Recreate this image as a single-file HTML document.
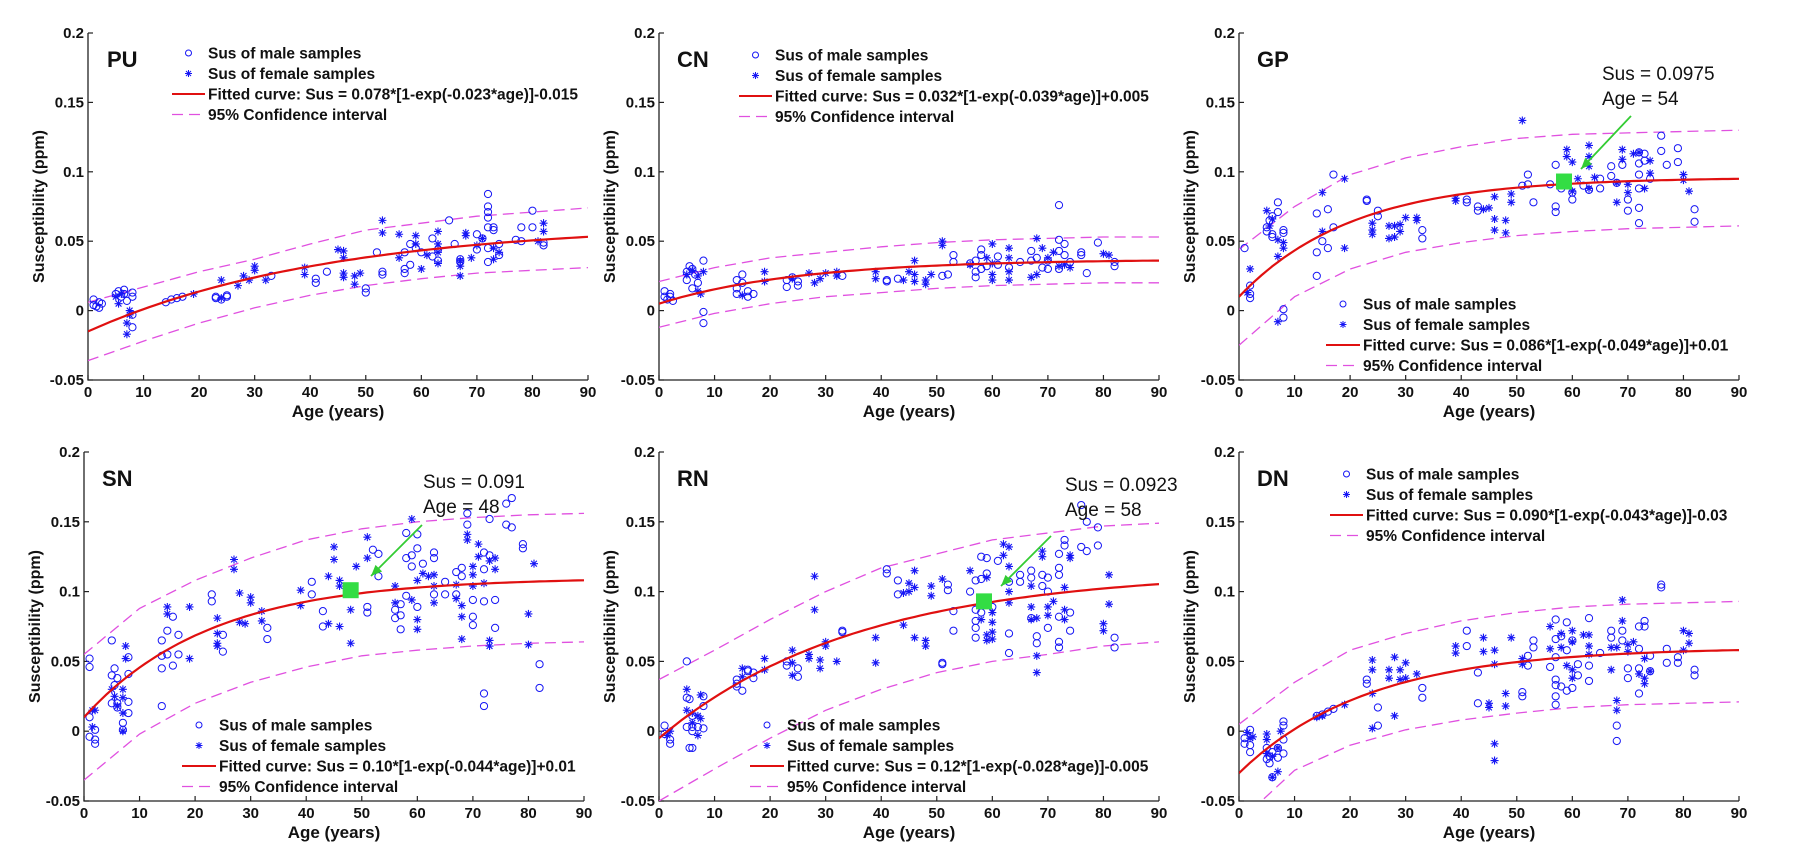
<!DOCTYPE html>
<html><head><meta charset="utf-8"><style>
html,body{margin:0;padding:0;background:#fff;}
svg{display:block;font-family:"Liberation Sans",Arial,sans-serif;}
</style></head><body>
<svg id="fig" width="1800" height="849" viewBox="0 0 1800 849" xmlns="http://www.w3.org/2000/svg"></svg>
<script>
// ---------- DATA ----------
const ciAges = [0,10,20,30,40,50,60,70,80,90];
const xTicks = [0,10,20,30,40,50,60,70,80,90];
const yTicks = [-0.05,0,0.05,0.1,0.15,0.2];
const yTickLabels = ["-0.05","0","0.05","0.1","0.15","0.2"];

const puFit = [0.078,0.023,-0.015];
const puUpper = [0.006,0.017,0.028,0.037,0.048,0.058,0.063,0.068,0.071,0.074];
const puLower = [-0.036,-0.022,-0.009,0.002,0.011,0.018,0.023,0.027,0.029,0.031];
const puMale = [[1,.008],[1,.004],[1.5,.003],[2,.006],[2,.002],[2.5,.005],[5,.012],[5.5,.014],[6,.01],[6.5,.015],[6.5,.012],[7,.007],[8,.013],[8,.01],[8,-.003],[8,-.012],[14,.006],[15,.008],[16,.009],[17,.01],[23,.009],[23,.01],[24,.008],[25,.01],[25,.011],[33,.025],[41,.023],[41,.02],[43,.028],[53,.028],[53,.026],[50,.016],[50,.013],[52,.042],[57,.042],[58,.048],[57,.03],[57,.027],[58,.033],[59,.045],[60,.042],[62,.052],[63,.044],[65,.065],[66,.048],[67,.035],[67,.037],[70,.055],[70,.044],[71,.052],[72,.06],[72,.084],[72,.075],[72,.071],[72,.067],[73,.06],[73,.058],[72,.045],[72,.035],[74,.04],[74,.048],[77,.051],[78,.05],[78,.06],[80,.072],[80,.06],[82,.047],[82,.049],[63,.036],[62,.039]];
const puFemale = [[5,.01],[5.5,.005],[6,.012],[7,-.009],[7,-.017],[7.5,-.003],[7.5,0],[19,.012],[24,.022],[24,.009],[27,.018],[28,.025],[29,.022],[30,.032],[30,.029],[32,.022],[39,.031],[39,.026],[45,.044],[46,.043],[46,.038],[46,.027],[46,.024],[48,.019],[48,.025],[49,.027],[53,.065],[53,.056],[56,.055],[56,.038],[59,.054],[59,.048],[60,.03],[61,.04],[63,.057],[63,.048],[63,.042],[63,.034],[67,.025],[67,.036],[67,.032],[68,.056],[68,.054],[69,.038],[70,.047],[71,.052],[73,.045],[73,.037],[74,.042],[81,.05],[82,.063],[82,.057]];

const cnFit = [0.032,0.039,0.005];
const cnUpper = [0.021,0.031,0.038,0.042,0.046,0.049,0.051,0.052,0.053,0.053];
const cnLower = [-0.012,-0.002,0.005,0.010,0.013,0.016,0.018,0.019,0.020,0.020];
const cnMale = [[1,.014],[1,.01],[1.5,.008],[2,.012],[2,.01],[2.5,.007],[5,.028],[5,.022],[5.5,.032],[6,.03],[6,.016],[6.5,.026],[7,.02],[8,.036],[8,-.001],[8,-.009],[14,.022],[14,.016],[14,.012],[15,.026],[15,.02],[16,.014],[16,.01],[17,.012],[23,.022],[23,.017],[24,.024],[25,.021],[25,.018],[33,.025],[41,.022],[41,.021],[43,.023],[51,.025],[52,.026],[53,.04],[53,.035],[56,.034],[57,.036],[57,.028],[57,.024],[58,.044],[58,.04],[58,.03],[59,.032],[61,.039],[61,.033],[63,.031],[65,.035],[67,.043],[67,.036],[68,.038],[69,.031],[70,.03],[70,.036],[72,.076],[72,.051],[72,.043],[72,.03],[73,.048],[73,.04],[74,.035],[76,.042],[76,.04],[77,.027],[79,.049],[82,.035],[82,.032]];
const cnFemale = [[5,.026],[6,.029],[7,.025],[7,.014],[7.5,.012],[8,.028],[15,.011],[19,.028],[19,.021],[24,.023],[27,.027],[28,.02],[29,.023],[30,.027],[32,.028],[32,.025],[39,.028],[39,.023],[44,.022],[45,.028],[46,.036],[46,.026],[46,.021],[48,.022],[48,.019],[49,.026],[51,.05],[51,.047],[56,.033],[59,.038],[60,.048],[60,.034],[60,.026],[60,.022],[63,.045],[63,.038],[63,.028],[63,.022],[67,.024],[68,.052],[68,.026],[69,.045],[70,.038],[71,.042],[72,.032],[73,.033],[74,.031],[80,.041],[81,.04]];

const gpFit = [0.086,0.049,0.01];
const gpUpper = [0.044,0.075,0.098,0.110,0.118,0.124,0.127,0.128,0.129,0.130];
const gpLower = [-0.025,0.010,0.030,0.042,0.049,0.054,0.057,0.059,0.060,0.061];
const gpMale = [[1,.045],[2,.018],[2,.012],[2,.009],[5,.06],[5,.057],[5.5,.065],[6,.068],[6,.055],[6,.053],[7,.078],[7,.071],[8,.058],[8,.056],[8,.001],[8,-.005],[14,.07],[14,.042],[14,.025],[15,.05],[16,.073],[16,.045],[17,.098],[17,.06],[23,.08],[23,.079],[25,.072],[25,.068],[33,.058],[33,.052],[41,.08],[41,.078],[43,.075],[43,.072],[51,.09],[52,.098],[52,.091],[53,.078],[56,.091],[57,.105],[57,.075],[57,.071],[58,.088],[59,.095],[60,.08],[60,.085],[62,.09],[63,.087],[65,.095],[65,.088],[67,.104],[67,.097],[68,.092],[69,.105],[70,.072],[70,.08],[72,.114],[72,.106],[72,.098],[72,.088],[72,.074],[72,.063],[73,.113],[73,.108],[74,.095],[76,.126],[76,.115],[77,.105],[79,.117],[79,.107],[82,.073],[82,.064]];
const gpFemale = [[2,.03],[1.5,.013],[5,.072],[5.5,.061],[6,.066],[7,.039],[7,.051],[8,.049],[8,.045],[7,-.008],[15,.085],[15,.057],[19,.095],[19,.045],[24,.063],[24,.058],[24,.055],[27,.061],[27,.052],[28,.061],[28,.053],[29,.062],[29,.057],[30,.067],[32,.067],[32,.065],[39,.081],[39,.079],[44,.073],[45,.074],[46,.082],[46,.066],[46,.058],[48,.065],[48,.056],[49,.084],[49,.078],[51,.137],[59,.116],[59,.111],[60,.107],[60,.086],[61,.095],[63,.119],[63,.111],[63,.104],[63,.088],[64,.096],[68,.092],[68,.078],[69,.116],[69,.109],[70,.091],[70,.085],[71,.113],[72,.114],[73,.088],[74,.108],[74,.099],[80,.098],[80,.094],[81,.086]];

const snFit = [0.10,0.044,0.01];
const snUpper = [0.055,0.088,0.108,0.124,0.137,0.145,0.150,0.153,0.155,0.156];
const snLower = [-0.035,-0.002,0.020,0.035,0.046,0.054,0.058,0.061,0.063,0.064];
const snMale = [[1,.052],[1,.046],[1,.01],[1,-.004],[2,.001],[2,-.006],[2,-.009],[5,.065],[5,.04],[5,.02],[5.5,.033],[5.5,.045],[6,.038],[6,.02],[6,.017],[7,.006],[7,.001],[8,.053],[8,.041],[8,.021],[8,.013],[14,.065],[14,.054],[14,.045],[14,.018],[15,.072],[15,.055],[16,.082],[16,.047],[17,.069],[17,.055],[23,.098],[23,.093],[25,.069],[25,.057],[33,.074],[33,.066],[41,.107],[41,.098],[43,.086],[43,.075],[51,.089],[51,.085],[52,.13],[53,.127],[53,.111],[56,.087],[56,.081],[57,.091],[57,.083],[57,.073],[58,.142],[58,.124],[58,.097],[59,.126],[59,.118],[60,.141],[60,.131],[60,.089],[61,.12],[63,.128],[63,.124],[63,.098],[65,.107],[65,.098],[67,.114],[67,.098],[68,.117],[68,.111],[69,.156],[69,.148],[70,.094],[70,.082],[70,.076],[72,.128],[72,.116],[72,.093],[72,.027],[72,.018],[73,.152],[73,.126],[74,.094],[74,.074],[76,.163],[76,.148],[77,.167],[77,.146],[79,.134],[79,.131],[82,.048],[82,.031]];
const snFemale = [[1.5,.015],[1.5,.003],[2,.015],[5,.03],[5.5,.025],[6,.018],[7,.03],[7,.024],[7,.013],[7,0],[7.5,.061],[7.5,.052],[15,.089],[15,.084],[19,.089],[19,.052],[24,.081],[24,.07],[24,.063],[24,.061],[27,.123],[27,.116],[28,.099],[28,.078],[29,.077],[30,.096],[30,.092],[32,.086],[32,.079],[39,.101],[39,.09],[44,.111],[44,.077],[45,.132],[45,.123],[46,.108],[46,.104],[46,.075],[48,.087],[48,.063],[49,.118],[51,.139],[51,.124],[56,.104],[56,.092],[59,.152],[59,.094],[60,.108],[60,.08],[60,.073],[61,.113],[62,.111],[63,.112],[63,.104],[63,.092],[67,.105],[67,.095],[68,.09],[68,.082],[68,.066],[69,.141],[69,.137],[70,.118],[70,.112],[70,.104],[71,.134],[71,.125],[72,.106],[73,.122],[73,.065],[73,.061],[74,.124],[74,.116],[80,.084],[80,.062],[81,.12]];

const rnFit = [0.12,0.028,-0.005];
const rnUpper = [0.037,0.058,0.080,0.100,0.117,0.127,0.137,0.142,0.147,0.149];
const rnLower = [-0.050,-0.027,-0.005,0.015,0.030,0.042,0.050,0.055,0.061,0.064];
const rnMale = [[1,.004],[1,-.002],[2,-.009],[2,-.006],[5,.05],[5,.024],[5,.003],[5.5,.023],[5.5,-.012],[6,.011],[6,.003],[6,0],[6,-.012],[7,.003],[8,.025],[8,.018],[8,.002],[14,.037],[14,.034],[14,.032],[15,.029],[16,.044],[16,.043],[17,.042],[17,.038],[23,.05],[23,.047],[25,.045],[25,.039],[33,.072],[33,.071],[41,.116],[41,.113],[43,.108],[43,.098],[51,.049],[51,.048],[52,.105],[52,.101],[53,.086],[53,.072],[56,.1],[57,.108],[57,.087],[57,.079],[57,.074],[57,.067],[58,.125],[58,.109],[58,.085],[59,.124],[59,.113],[60,.089],[61,.122],[63,.107],[63,.07],[63,.056],[65,.112],[65,.107],[67,.115],[67,.11],[67,.081],[68,.068],[68,.063],[69,.112],[69,.104],[70,.11],[70,.1],[70,.074],[72,.127],[72,.117],[72,.112],[72,.082],[72,.064],[72,.06],[73,.137],[73,.133],[74,.085],[74,.072],[76,.162],[76,.132],[77,.15],[77,.129],[79,.146],[79,.133],[82,.067],[82,.06]];
const rnFemale = [[1.5,-.003],[2,0],[5,.03],[5,.015],[6,.013],[6,.006],[7,-.003],[7,.011],[7.5,.009],[7.5,.026],[15,.045],[15,.039],[19,.052],[19,.044],[24,.058],[24,.049],[24,.04],[27,.055],[27,.052],[28,.111],[28,.087],[29,.051],[29,.045],[30,.064],[30,.061],[32,.05],[39,.067],[39,.049],[44,.099],[44,.076],[45,.1],[45,.106],[46,.115],[46,.103],[46,.067],[48,.065],[48,.061],[49,.104],[49,.097],[51,.109],[56,.115],[58,.08],[59,.11],[59,.069],[59,.065],[60,.085],[60,.078],[60,.071],[60,.066],[62,.126],[62,.134],[63,.132],[63,.118],[63,.1],[63,.092],[67,.104],[67,.089],[67,.08],[68,.081],[68,.054],[68,.042],[69,.129],[69,.125],[70,.089],[70,.083],[71,.093],[73,.103],[73,.087],[73,.08],[74,.126],[74,.124],[80,.077],[80,.072],[81,.112],[81,.091]];

const dnFit = [0.090,0.043,-0.03];
const dnUpper = [0.005,0.035,0.058,0.070,0.079,0.085,0.089,0.091,0.092,0.093];
const dnLower = [-0.065,-0.028,-0.010,0.001,0.008,0.013,0.017,0.019,0.020,0.021];
const dnMale = [[1,-.005],[1,-.009],[2,.001],[2,-.01],[2,-.015],[5,-.012],[5,-.02],[5.5,-.018],[5.5,-.023],[6,-.015],[6,-.033],[7,-.019],[7,-.012],[8,.007],[8,.004],[8,-.006],[8,-.016],[14,.011],[15,.012],[16,.014],[17,.016],[23,.037],[23,.034],[25,.017],[25,.004],[33,.031],[33,.024],[41,.072],[41,.061],[43,.042],[43,.02],[51,.028],[51,.025],[52,.054],[52,.047],[53,.065],[53,.06],[56,.046],[57,.08],[57,.066],[57,.053],[57,.037],[57,.033],[57,.025],[57,.019],[58,.068],[58,.032],[59,.078],[59,.058],[59,.029],[60,.065],[60,.031],[61,.048],[61,.04],[63,.081],[63,.047],[63,.036],[65,.056],[67,.072],[67,.067],[68,.004],[68,-.007],[69,.072],[69,.065],[70,.045],[70,.038],[72,.075],[72,.059],[72,.045],[72,.027],[73,.079],[73,.075],[74,.054],[74,.043],[76,.105],[76,.103],[77,.059],[77,.049],[79,.053],[79,.049],[82,.044],[82,.04]];
const dnFemale = [[1.5,-.001],[2,-.005],[2.5,-.004],[5,-.002],[5,-.006],[5,-.016],[6,-.033],[6,-.018],[7,-.012],[7,-.029],[7.5,0],[14,.01],[15,.011],[19,.019],[24,.051],[24,.044],[24,.027],[24,.002],[27,.044],[27,.038],[28,.053],[28,.011],[29,.044],[29,.037],[30,.049],[30,.038],[32,.041],[39,.061],[39,.056],[44,.067],[44,.057],[45,.02],[45,.017],[46,.058],[46,.048],[46,-.009],[46,-.021],[48,.027],[48,.018],[49,.067],[51,.052],[51,.048],[56,.075],[56,.059],[58,.07],[58,.06],[59,.047],[60,.072],[60,.064],[60,.044],[60,.038],[62,.069],[63,.069],[63,.061],[63,.055],[67,.06],[67,.044],[68,.06],[68,.022],[68,.015],[69,.094],[69,.079],[70,.062],[70,.057],[71,.064],[72,.041],[73,.052],[73,.038],[73,.034],[74,.043],[80,.072],[80,.058],[81,.07],[81,.063]];

const gpMark = [58.5,0.093];
const snMark = [48,0.101];
const rnMark = [58.5,0.093];

// ---------- DRAW ----------
const NS = "http://www.w3.org/2000/svg";
const svg = document.getElementById('fig');
function mk(tag, attrs, parent){
  const e = document.createElementNS(NS, tag);
  for (const k in attrs) e.setAttribute(k, attrs[k]);
  (parent||svg).appendChild(e);
  return e;
}
const BLUE = "#1515f5", RED = "#e01010", MAG = "#e050e0", GREEN = "#33cc33";

function panel(cfg){
  const g = mk('g', {});
  
  
  const X0 = cfg.x0, W = 500, Y0 = cfg.y0, H = cfg.h;
  const sx = a => X0 + a / 90 * W;
  const sy = v => Y0 + (0.2 - v) / 0.25 * H;
  const yb = Y0 + H;
  const clip = mk('clipPath', {id: 'clip-' + cfg.id}, g);
  mk('rect', {x: X0, y: Y0, width: W, height: H}, clip);
  const ax = mk('path', {d: `M${X0} ${Y0}V${yb}H${X0+W}`, stroke: '#222', 'stroke-width': 1.3, fill: 'none'}, g);
  
  
  xTicks.forEach(t => {
    mk('line', {x1: sx(t), x2: sx(t), y1: yb, y2: yb - 5, stroke: '#222', 'stroke-width': 1.2}, g);
    const tx = mk('text', {x: sx(t), y: yb + 17, 'text-anchor': 'middle', 'font-size': 15, 'font-weight': 'bold', fill: '#111'}, g);
    tx.textContent = t;
    
    
  });
  yTicks.forEach((t, i) => {
    mk('line', {x1: X0, x2: X0 + 5, y1: sy(t), y2: sy(t), stroke: '#222', 'stroke-width': 1.2}, g);
    const tx = mk('text', {x: X0 - 4, y: sy(t) + 5, 'text-anchor': 'end', 'font-size': 15, 'font-weight': 'bold', fill: '#111'}, g);
    tx.textContent = yTickLabels[i];
    
    
  });
  const yt = mk('text', {x: 0, y: 0, transform: `translate(${cfg.ylx},${Y0 + H*0.5}) rotate(-90)`, 'text-anchor': 'middle', 'font-size': 16, 'font-weight': 'bold', fill: '#111'}, g);
  yt.textContent = 'Susceptibility (ppm)';
  
  
  const xt = mk('text', {x: X0 + W/2, y: yb + 37, 'text-anchor': 'middle', 'font-size': 17, 'font-weight': 'bold', fill: '#111'}, g);
  xt.textContent = 'Age (years)';
  
  
  const pl = mk('text', {x: cfg.lblx, y: Y0 + 34, 'font-size': 22, 'font-weight': 'bold', fill: '#111'}, g);
  pl.textContent = cfg.label;
  
  

  const dg = mk('g', {'clip-path': `url(#clip-${cfg.id})`}, g);
  [cfg.upper, cfg.lower].forEach((arr, k) => {
    const d = arr.map((v, i) => (i ? 'L' : 'M') + sx(ciAges[i]).toFixed(1) + ' ' + sy(v).toFixed(1)).join('');
    const p = mk('path', {d, stroke: MAG, 'stroke-width': 1.3, fill: 'none', 'stroke-dasharray': '11 6'}, dg);
    
    
  });
  cfg.male.forEach(pt => {
    const c = mk('circle', {cx: sx(pt[0]), cy: sy(pt[1]), r: 3.6, fill: 'none', stroke: BLUE, 'stroke-width': 1}, dg);
    
    
  });
  cfg.female.forEach(pt => {
    const x = sx(pt[0]), y = sy(pt[1]), r = 4;
    const s = mk('path', {d: `M${x-r} ${y}H${x+r}M${x} ${y-r}V${y+r}M${x-2.9} ${y-2.9}L${x+2.9} ${y+2.9}M${x-2.9} ${y+2.9}L${x+2.9} ${y-2.9}`, stroke: BLUE, 'stroke-width': 1.1}, dg);
    
    
  });
  const f = cfg.fit; let d = '';
  for (let a = 0; a <= 90; a += 1) d += (a ? 'L' : 'M') + sx(a).toFixed(1) + ' ' + sy(f[0]*(1-Math.exp(-f[1]*a))+f[2]).toFixed(1);
  const fp = mk('path', {d, stroke: RED, 'stroke-width': 2.2, fill: 'none'}, dg);
  
  
  if (cfg.mark){
    const m = mk('rect', {x: sx(cfg.mark[0]) - 8, y: sy(cfg.mark[1]) - 8, width: 16, height: 16, fill: '#33dd44'}, g);
    
    
    const a = cfg.arrow;
    const ln = mk('line', {x1: a[0], y1: a[1], x2: a[2], y2: a[3], stroke: GREEN, 'stroke-width': 1.8}, g);
    
    
    const ang = Math.atan2(a[3]-a[1], a[2]-a[0]);
    const hx = a[2], hy = a[3], L = 12;
    mk('polygon', {points: `${hx},${hy} ${hx - L*Math.cos(ang-0.4)},${hy - L*Math.sin(ang-0.4)} ${hx - L*Math.cos(ang+0.4)},${hy - L*Math.sin(ang+0.4)}`, fill: GREEN}, g);
    const t1 = mk('text', {x: cfg.annx, y: cfg.anny, 'font-size': 19, fill: '#111'}, g);
    t1.textContent = cfg.annSus;
    
    
    const t2 = mk('text', {x: cfg.annx, y: cfg.anny + 25, 'font-size': 19, fill: '#111'}, g);
    t2.textContent = cfg.annAge;
    
    
  }
  const lg = mk('g', {}, g);
  
  
  const L0 = cfg.leg;
  const rows = ['Sus of male samples', 'Sus of female samples', 'Fitted curve: Sus = ' + cfg.eq, '95% Confidence interval'];
  const mx = (L0[0] + L0[1] - 3) / 2;
  rows.forEach((txt, i) => {
    const y = L0[2] + i * 20.5;
    if (i === 0) mk('circle', {cx: mx, cy: y, r: 3, fill: 'none', stroke: BLUE, 'stroke-width': 1}, lg);
    if (i === 1) mk('path', {d: `M${mx-3.5} ${y}H${mx+3.5}M${mx} ${y-3.5}V${y+3.5}M${mx-2.5} ${y-2.5}L${mx+2.5} ${y+2.5}M${mx-2.5} ${y+2.5}L${mx+2.5} ${y-2.5}`, stroke: BLUE, 'stroke-width': 1}, lg);
    if (i === 2) mk('line', {x1: L0[0], x2: L0[1] - 3, y1: y, y2: y, stroke: RED, 'stroke-width': 2}, lg);
    if (i === 3) mk('line', {x1: L0[0], x2: L0[1] - 3, y1: y, y2: y, stroke: MAG, 'stroke-width': 1.3, 'stroke-dasharray': '11 6'}, lg);
    const t = mk('text', {x: L0[1], y: y + 5.5, 'font-size': 15.5, 'font-weight': 'bold', fill: '#111'}, lg);
    t.textContent = txt;
    
    
  });
}

panel({id:'pu', label:'PU', x0:88, y0:33, h:347, ylx:44, lblx:107, fit:puFit, upper:puUpper, lower:puLower, male:puMale, female:puFemale, leg:[172,208,53], eq:'0.078*[1-exp(-0.023*age)]-0.015'});
panel({id:'cn', label:'CN', x0:659, y0:33, h:347, ylx:615, lblx:677, fit:cnFit, upper:cnUpper, lower:cnLower, male:cnMale, female:cnFemale, leg:[739,775,55], eq:'0.032*[1-exp(-0.039*age)]+0.005'});
panel({id:'gp', label:'GP', x0:1239, y0:33, h:347, ylx:1195, lblx:1257, fit:gpFit, upper:gpUpper, lower:gpLower, male:gpMale, female:gpFemale, leg:[1326,1363,304], eq:'0.086*[1-exp(-0.049*age)]+0.01', mark:gpMark, arrow:[1631,116,1581,169], annx:1602, anny:80, annSus:'Sus = 0.0975', annAge:'Age = 54'});
panel({id:'sn', label:'SN', x0:84, y0:452, h:349, ylx:40, lblx:102, fit:snFit, upper:snUpper, lower:snLower, male:snMale, female:snFemale, leg:[182,219,725], eq:'0.10*[1-exp(-0.044*age)]+0.01', mark:snMark, arrow:[422,525,371,576], annx:423, anny:488, annSus:'Sus = 0.091', annAge:'Age = 48'});
panel({id:'rn', label:'RN', x0:659, y0:452, h:349, ylx:615, lblx:677, fit:rnFit, upper:rnUpper, lower:rnLower, male:rnMale, female:rnFemale, leg:[750,787,725], eq:'0.12*[1-exp(-0.028*age)]-0.005', mark:rnMark, arrow:[1051,536,1001,586], annx:1065, anny:491, annSus:'Sus = 0.0923', annAge:'Age = 58'});
panel({id:'dn', label:'DN', x0:1239, y0:452, h:349, ylx:1195, lblx:1257, fit:dnFit, upper:dnUpper, lower:dnLower, male:dnMale, female:dnFemale, leg:[1330,1366,474], eq:'0.090*[1-exp(-0.043*age)]-0.03'});
</script>
</body></html>
